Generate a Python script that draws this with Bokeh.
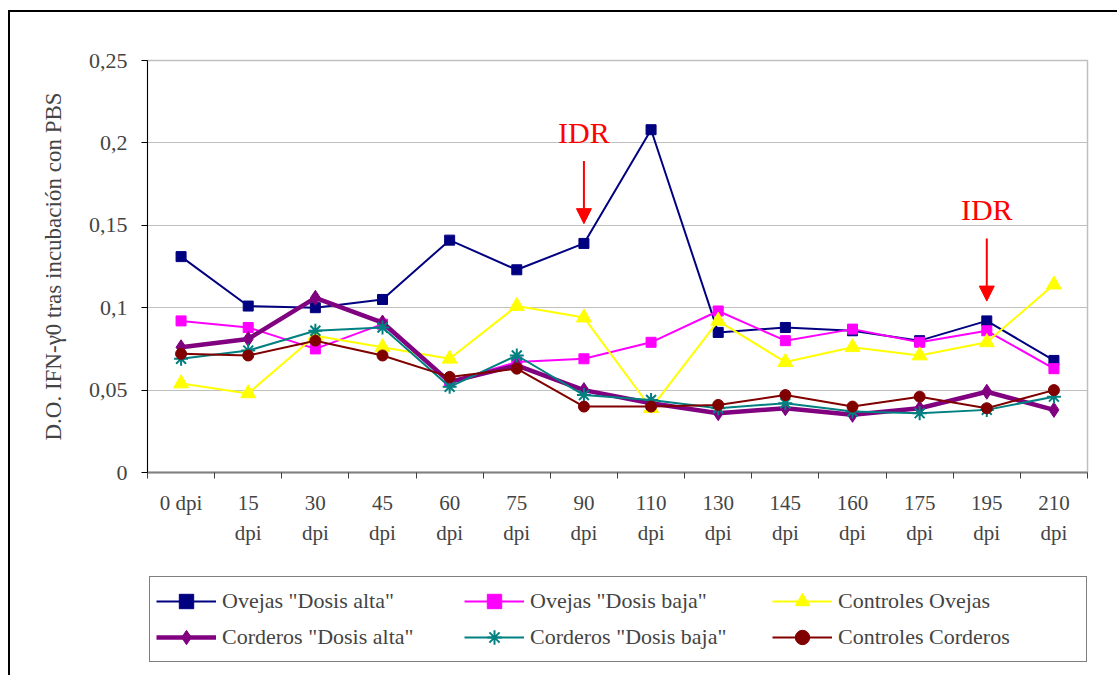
from bokeh.plotting import figure
from bokeh.layouts import column
from bokeh.models import (FactorRange, Range1d, LinearAxis, CategoricalAxis, FixedTicker,
                          Legend, LegendItem, Arrow, NormalHead, Label, CustomJSTickFormatter)
from bokeh.embed import file_html
from bokeh.resources import INLINE

# Sampling days (days post infection)
categories = ["0 dpi", "15 dpi", "30 dpi", "45 dpi", "60 dpi", "75 dpi", "90 dpi",
              "110 dpi", "130 dpi", "145 dpi", "160 dpi", "175 dpi", "195 dpi", "210 dpi"]
# tick labels are wrapped over two lines, except the first one
x_tick_line1 = ["0 dpi", "15", "30", "45", "60", "75", "90",
                "110", "130", "145", "160", "175", "195", "210"]
x_tick_line2 = ["", "dpi", "dpi", "dpi", "dpi", "dpi", "dpi",
                "dpi", "dpi", "dpi", "dpi", "dpi", "dpi", "dpi"]

y_ticks = [0, 0.05, 0.1, 0.15, 0.2, 0.25]
y_tick_labels = ["0", "0,05", "0,1", "0,15", "0,2", "0,25"]

# Optical density of IFN-gamma after PBS incubation
ovejas_alta = [0.131, 0.101, 0.100, 0.105, 0.141, 0.123, 0.139,
               0.208, 0.085, 0.088, 0.086, 0.080, 0.092, 0.068]
ovejas_baja = [0.092, 0.088, 0.075, 0.090, 0.055, 0.067, 0.069,
               0.079, 0.098, 0.080, 0.087, 0.079, 0.086, 0.063]
controles_ovejas = [0.054, 0.048, 0.083, 0.076, 0.069, 0.101, 0.094,
                    0.039, 0.092, 0.067, 0.076, 0.071, 0.079, 0.114]
corderos_alta = [0.076, 0.081, 0.106, 0.091, 0.055, 0.065, 0.050,
                 0.042, 0.036, 0.039, 0.035, 0.039, 0.049, 0.038]
corderos_baja = [0.069, 0.074, 0.086, 0.088, 0.052, 0.071, 0.047,
                 0.044, 0.039, 0.042, 0.037, 0.036, 0.038, 0.046]
controles_corderos = [0.072, 0.071, 0.080, 0.071, 0.058, 0.063, 0.040,
                      0.040, 0.041, 0.047, 0.040, 0.046, 0.039, 0.050]

# IDR test days
idr_days = ["90 dpi", "195 dpi"]

FONT = "Liberation Serif"

p = figure(width=1109, height=560, x_range=FactorRange(*categories, range_padding=0),
           y_range=Range1d(0, 0.25), output_backend="svg", toolbar_location=None,
           x_axis_location=None, y_axis_location=None,
           min_border_left=137, min_border_right=32, min_border_top=48, min_border_bottom=100,
           background_fill_color="white", border_fill_color="white")
p.margin = (10, 0, 0, 8)
p.styles = {"border-top": "2px solid black", "border-left": "2px solid black"}

p.outline_line_color = "#C0C0C0"
p.outline_line_width = 1.5

# y axis
yax = LinearAxis(ticker=FixedTicker(ticks=y_ticks),
                 major_label_overrides=dict(zip(y_ticks, y_tick_labels)))
yax.axis_line_color = "black"
yax.major_tick_line_color = "black"
yax.major_tick_out = 6
yax.major_tick_in = 0
yax.minor_tick_line_color = None
yax.major_label_text_font = FONT
yax.major_label_text_font_size = "22px"
yax.major_label_standoff = 14
yax.axis_label = "D.O. IFN-γ0 tras incubación con PBS"
yax.axis_label_text_font = FONT
yax.axis_label_text_font_size = "23px"
yax.axis_label_text_font_style = "normal"
yax.axis_label_standoff = 20
p.add_layout(yax, "left")

# tick marks on the boundaries between categories (no labels)
tax = LinearAxis(ticker=FixedTicker(ticks=list(range(len(categories) + 1))),
                 formatter=CustomJSTickFormatter(code="return '';"))
tax.axis_line_color = "#808080"
tax.axis_line_width = 2
tax.major_tick_line_color = "#404040"
tax.major_tick_out = 6
tax.major_tick_in = 0
tax.minor_tick_line_color = None
tax.major_label_standoff = 0
p.add_layout(tax, "below")

# category labels, first and second line
for lines, standoff in ((x_tick_line1, 6), (x_tick_line2, -3)):
    fmt = CustomJSTickFormatter(args=dict(cats=categories, labels=lines),
                                code="return labels[cats.indexOf(tick)];")
    ax = CategoricalAxis(formatter=fmt)
    ax.axis_line_color = None
    ax.major_tick_line_color = None
    ax.major_label_text_font = FONT
    ax.major_label_text_font_size = "21px"
    ax.major_label_standoff = standoff
    p.add_layout(ax, "below")

p.ygrid.ticker = FixedTicker(ticks=y_ticks)
p.ygrid.grid_line_color = "#C0C0C0"
p.ygrid.grid_line_width = 1.2
p.xgrid.grid_line_color = None

series = [
    ("Ovejas \"Dosis alta\"", ovejas_alta, "#000080", 2, "square", 10),
    ("Ovejas \"Dosis baja\"", ovejas_baja, "#FF00FF", 2, "square", 10),
    ("Controles Ovejas", controles_ovejas, "#FFFF00", 2, "triangle", 15),
    ("Corderos \"Dosis alta\"", corderos_alta, "#800080", 4.5, "diamond", 15),
    ("Corderos \"Dosis baja\"", corderos_baja, "#008080", 2, "asterisk", 14),
    ("Controles Corderos", controles_corderos, "#800000", 2, "circle", 11),
]


def draw_series(fig, xs, vals, color, lw, marker, size):
    r1 = fig.line(xs, vals, line_color=color, line_width=lw)
    if marker == "asterisk":
        r2 = fig.scatter(xs, vals, marker=marker, size=size, line_color=color, line_width=2)
    else:
        r2 = fig.scatter(xs, vals, marker=marker, size=size, fill_color=color,
                         line_color=color, line_width=1)
    return [r1, r2]


for name, vals, color, lw, marker, size in series:
    draw_series(p, categories, vals, color, lw, marker, size)

# IDR markers: arrow above the "Dosis alta" sheep value on each test day
for day in idr_days:
    i = categories.index(day)
    xc = i + 0.5
    tip = ovejas_alta[i] + 0.012
    tail = tip + 0.038
    p.add_layout(Arrow(x_start=xc, y_start=tail, x_end=xc, y_end=tip,
                       line_color="#FF0000", line_width=2,
                       end=NormalHead(size=15, fill_color="#FF0000", line_color="#FF0000")))
    p.add_layout(Label(x=xc, y=tail + 0.0075, text="IDR", text_align="center",
                       text_baseline="bottom", text_color="#FF0000",
                       text_font=FONT, text_font_size="30px"))

# legend panel below the chart; its sample glyphs sit outside the visible range
lg = figure(width=1109, height=105, x_range=Range1d(0, 1), y_range=Range1d(0, 1),
            output_backend="svg", toolbar_location=None,
            x_axis_location=None, y_axis_location=None,
            min_border_left=137, min_border_right=10, min_border_top=4, min_border_bottom=11,
            background_fill_color="white", border_fill_color="white")
lg.margin = (0, 0, 0, 8)
lg.styles = {"border-left": "2px solid black"}
lg.outline_line_color = None
lg.grid.grid_line_color = None

items = []
for name, vals, color, lw, marker, size in series:
    rs = draw_series(lg, [-5, -4], [-5, -4], color, lw, marker, size)
    items.append(LegendItem(label=name, renderers=rs))

legend = Legend(items=items, location="top_left", orientation="horizontal", ncols=3)
legend.label_text_font = FONT
legend.label_text_font_size = "22px"
legend.glyph_width = 60
legend.glyph_height = 36
legend.label_width = 242
legend.label_height = 36
legend.label_standoff = 6
legend.spacing = 0
legend.padding = 6
legend.margin = 2
legend.border_line_color = "black"
legend.border_line_width = 1.5
legend.background_fill_color = "white"
lg.add_layout(legend, "center")

page = column(p, lg, spacing=0)
open("out.html", "w").write(file_html(page, INLINE))
